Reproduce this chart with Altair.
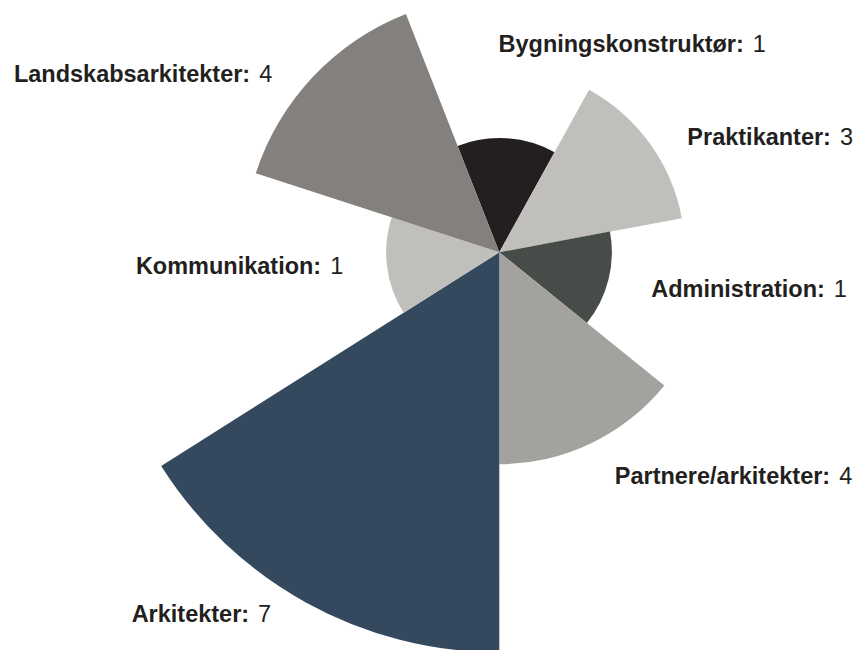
import altair as alt
import pandas as pd
import math

# ---- data ----
categories = ["Bygningskonstruktør", "Praktikanter", "Administration",
              "Partnere/arkitekter", "Arkitekter", "Kommunikation",
              "Landskabsarkitekter"]
counts = [1, 3, 1, 4, 7, 1, 4]
# wedge length as drawn (same units as counts; Arkitekter = 7)
radius_vals = [2.0, 3.25, 1.97, 3.71, 7.0, 1.98, 4.48]
# angular width of each wedge as drawn, in degrees
span_deg = [50.3, 50.5, 49.5, 51.1, 57.7, 50.3, 50.6]
colors = ["#231f20", "#c0bfbb", "#474c48", "#a3a29e", "#34495e", "#c0bfbb", "#83807d"]

# ---- label layout (polar anchor at end of the bold name) ----
label_deg = [50.7, 72.07, 97.81, 125.02, 214.1, 263.1, 304.34]
label_r = [5.53, 6.10, 5.75, 7.07, 7.81, 3.14, 5.28]

start_deg = -21.4

t1 = []
acc = 0.0
for s in span_deg:
    t1.append(acc + s)
    acc += s
t0 = [e - s for e, s in zip(t1, span_deg)]

df = pd.DataFrame({
    "idx": list(range(len(categories))),
    "category": categories,
    "count": counts,
    "rad": radius_vals,
    "t0": t0,
    "t1": t1,
    "name": [c + ":" for c in categories],
    "val": [str(v) for v in counts],
    "ldeg": label_deg,
    "lr": label_r,
})

start = start_deg * math.pi / 180.0
base = alt.Chart(df)

arcs = base.mark_arc().encode(
    theta=alt.Theta("t0:Q", scale=alt.Scale(domain=[0, 360], range=[start, start + 2 * math.pi])),
    theta2="t1:Q",
    radius=alt.Radius("rad:Q", scale=alt.Scale(type="linear", domain=[0, 7], range=[0, 400], zero=True)),
    color=alt.Color("category:N", scale=alt.Scale(domain=categories, range=colors), legend=None),
)

FONT = "Liberation Sans"
FS = 23.5

lab_theta = alt.Theta("ldeg:Q", scale=alt.Scale(domain=[0, 360], range=[0, 2 * math.pi]))
lab_radius = alt.Radius("lr:Q", scale=alt.Scale(type="linear", domain=[0, 7], range=[0, 400], zero=True))

names = base.mark_text(align="right", baseline="alphabetic", font=FONT, fontSize=FS,
                       fontWeight="bold", color="#231f20").encode(
    theta=lab_theta, radius=lab_radius, text="name:N",
)

vals = base.mark_text(align="left", baseline="alphabetic", font=FONT, fontSize=FS,
                      fontWeight="normal", color="#231f20", dx=9).encode(
    theta=lab_theta, radius=lab_radius, text="val:N",
)

chart = alt.layer(arcs, names, vals).resolve_scale(
    theta="independent", radius="independent"
).properties(
    width=400, height=400,
    autosize=alt.AutoSizeParams(type="none"),
    padding={"left": 291.3, "top": 44.3, "right": 153.7, "bottom": 197.5},
    background="white",
).configure_view(stroke=None)

chart.save("out.html", embed_options={"renderer": "svg", "actions": False})
